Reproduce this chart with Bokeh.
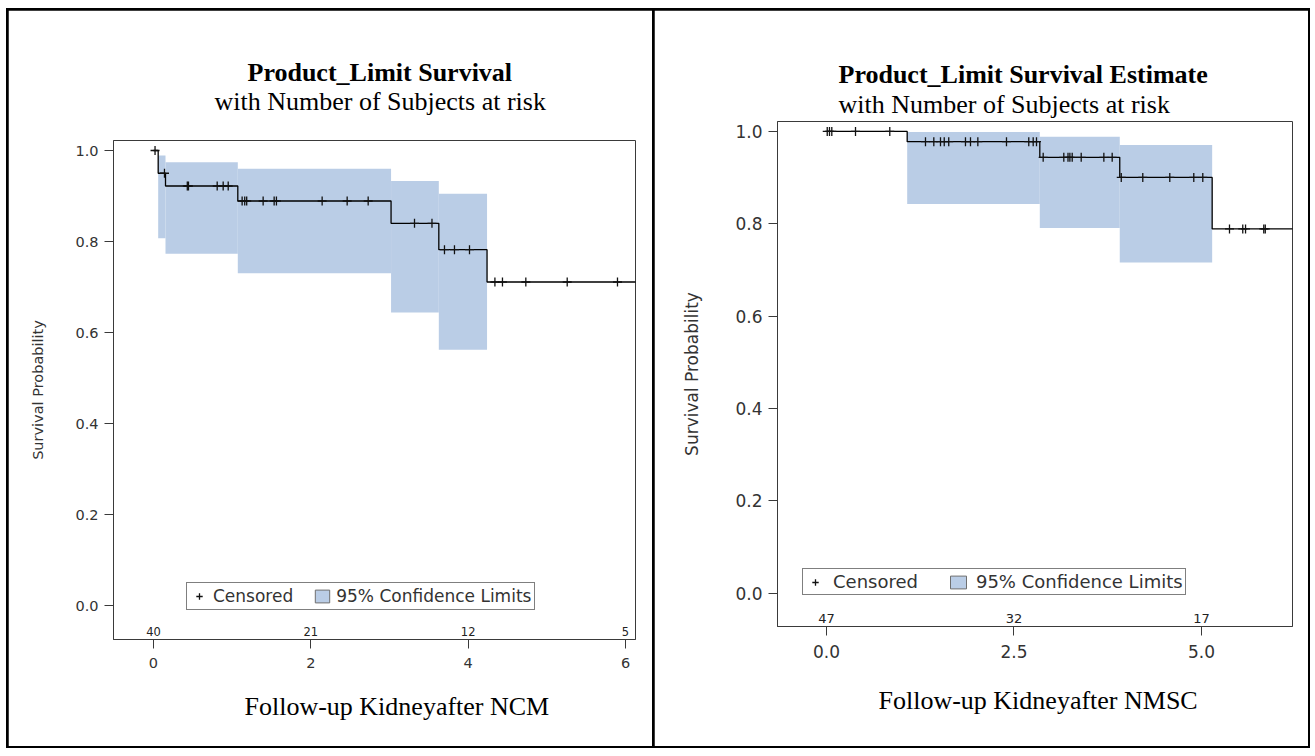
from bokeh.plotting import figure
from bokeh.layouts import row
from bokeh.models import (Range1d, FixedTicker, NumeralTickFormatter, Title,
                          Legend, LegendItem)
from bokeh.core.properties import value
from bokeh.embed import file_html
from bokeh.resources import INLINE

# ---------------- data: left panel (NCM) ----------------
ncm_step_time = [0.0, 0.06, 0.153, 1.072, 3.02, 3.627, 4.24, 6.15]
ncm_step_surv = [1.0, 0.950, 0.922, 0.889, 0.840, 0.782, 0.711, 0.711]
ncm_ci_start = [0.06, 0.153, 1.072, 3.02, 3.627]
ncm_ci_end = [0.153, 1.072, 3.02, 3.627, 4.24]
ncm_ci_lower = [0.807, 0.773, 0.730, 0.644, 0.562]
ncm_ci_upper = [0.989, 0.974, 0.960, 0.933, 0.905]
ncm_cens_time = [0.02, 0.14, 0.43, 0.445, 0.81, 0.886, 0.95,
                 1.127, 1.16, 1.185, 1.394, 1.534, 1.563, 2.144, 2.462, 2.729,
                 3.318, 3.54, 3.699, 3.826, 4.017,
                 4.34, 4.436, 4.733, 5.259, 5.898]
ncm_cens_surv = [1.0, 0.950, 0.922, 0.922, 0.922, 0.922, 0.922,
                 0.889, 0.889, 0.889, 0.889, 0.889, 0.889, 0.889, 0.889, 0.889,
                 0.840, 0.840, 0.782, 0.782, 0.782,
                 0.711, 0.711, 0.711, 0.711, 0.711]
ncm_risk_time = [0, 2, 4, 6]
ncm_risk_n = ["40", "21", "12", "5"]
ncm_xticks = [0, 2, 4, 6]

# ---------------- data: right panel (NMSC) ----------------
nmsc_step_time = [0.0, 1.076, 2.844, 3.91, 5.142, 6.25]
nmsc_step_surv = [1.0, 0.978, 0.944, 0.9005, 0.789, 0.789]
nmsc_ci_start = [1.076, 2.844, 3.91]
nmsc_ci_end = [2.844, 3.91, 5.142]
nmsc_ci_lower = [0.843, 0.791, 0.7165]
nmsc_ci_upper = [0.999, 0.9886, 0.9705]
nmsc_cens_time = [0.01, 0.04, 0.071, 0.387, 0.844,
                  1.32, 1.431, 1.52, 1.57, 1.63, 1.853, 1.92, 2.018, 2.4, 2.697, 2.756, 2.8,
                  2.889, 3.164, 3.22, 3.245, 3.276, 3.396, 3.698, 3.809,
                  3.93, 4.217, 4.577, 4.897, 5.017,
                  5.373, 5.55, 5.587, 5.83, 5.85]
nmsc_cens_surv = [1.0] * 5 + [0.978] * 12 + [0.944] * 8 + [0.9005] * 5 + [0.789] * 5
nmsc_risk_time = [0, 2.5, 5.0]
nmsc_risk_n = ["47", "32", "17"]
nmsc_xticks = [0, 2.5, 5.0]

y_ticks = [0.0, 0.2, 0.4, 0.6, 0.8, 1.0]

CI_FILL = "#bacde6"
AX = "#3a3a3a"
TXT = "#333333"
NAN = float("nan")


def panel(width, xr, yr, borders, xticks, xfmt, tick_fs, tick_standoff, risk_fs, risk_y,
          step_t, step_s, ci_s, ci_e, ci_lo, ci_hi, c_t, c_s, r_t, r_n,
          legend_loc, legend_fs, legend_kw, ylab_standoff, ylab_fs):
    bl, br, bt, bb = borders
    p = figure(width=width, height=736, x_range=Range1d(*xr), y_range=Range1d(*yr),
               output_backend="svg", toolbar_location=None,
               min_border_left=bl, min_border_right=br,
               min_border_top=bt, min_border_bottom=bb)
    p.frame_align = False
    p.styles = {"outline": "3px solid black", "outline-offset": "-1.5px"}
    p.background_fill_color = "white"
    p.border_fill_color = "white"
    p.outline_line_color = AX
    p.outline_line_width = 1
    p.grid.visible = False

    p.quad(left=ci_s, right=ci_e, bottom=ci_lo, top=ci_hi,
           fill_color=CI_FILL, line_color=None)
    p.step(x=step_t, y=step_s, mode="after", line_color="black", line_width=1.3)
    cens = p.scatter(x=c_t, y=c_s, marker="cross", size=9,
                     line_color="#111111", line_width=1.3)
    swatch = p.quad(left=[NAN], right=[NAN], bottom=[NAN], top=[NAN],
                    fill_color=CI_FILL, line_color="#6f6f6f", line_width=1)
    p.text(x=r_t, y=[risk_y] * len(r_t), text=r_n, text_align="center",
           text_baseline="middle", text_font=value("DejaVu Sans"),
           text_font_size=risk_fs, text_color="#222222")

    xa = p.xaxis[0]
    xa.ticker = FixedTicker(ticks=xticks)
    xa.formatter = NumeralTickFormatter(format=xfmt)
    xa.minor_tick_line_color = None
    xa.major_tick_out = 9
    xa.major_tick_in = 0
    xa.axis_line_color = AX
    xa.major_tick_line_color = AX
    xa.major_label_text_font = "DejaVu Sans"
    xa.major_label_text_font_size = tick_fs
    xa.major_label_text_color = TXT
    xa.major_label_standoff = tick_standoff

    ya = p.yaxis[0]
    ya.ticker = FixedTicker(ticks=y_ticks)
    ya.formatter = NumeralTickFormatter(format="0.0")
    ya.minor_tick_line_color = None
    ya.major_tick_out = 9
    ya.major_tick_in = 0
    ya.axis_line_color = AX
    ya.major_tick_line_color = AX
    ya.major_label_text_font = "DejaVu Sans"
    ya.major_label_text_font_size = tick_fs
    ya.major_label_text_color = TXT
    ya.major_label_standoff = 6
    ya.axis_label = "Survival Probability"
    ya.axis_label_text_font = "DejaVu Sans"
    ya.axis_label_text_font_size = ylab_fs
    ya.axis_label_text_font_style = "normal"
    ya.axis_label_text_color = TXT
    ya.axis_label_standoff = ylab_standoff

    leg = Legend(items=[LegendItem(label="Censored", renderers=[cens]),
                        LegendItem(label="95% Confidence Limits", renderers=[swatch])],
                 location=legend_loc, orientation="horizontal",
                 border_line_color="black", border_line_width=1,
                 background_fill_color="white", background_fill_alpha=1,
                 label_text_font="DejaVu Sans", label_text_font_size=legend_fs,
                 label_text_color=TXT, margin=0, **legend_kw)
    p.add_layout(leg)
    return p


def add_title(p, text, side, offset, standoff, bold=False, valign="bottom"):
    p.add_layout(Title(text=text, align="left", offset=offset, standoff=standoff,
                       vertical_align=valign,
                       text_font="Liberation Serif", text_font_size="26px",
                       text_font_style="bold" if bold else "normal",
                       text_color="black"), side)


# left cell: page x 8..654, y 10..746 ; right cell: page x 654..1308
left = panel(646, (-0.508, 6.127), (-0.0747, 1.022), (105, 19, 130, 107),
             ncm_xticks, "0", "14.5px", 9, "11.5px", -0.058,
             ncm_step_time, ncm_step_surv, ncm_ci_start, ncm_ci_end,
             ncm_ci_lower, ncm_ci_upper, ncm_cens_time, ncm_cens_surv,
             ncm_risk_time, ncm_risk_n, (73, 29), "17px",
             dict(glyph_width=18, glyph_height=16, padding=3, spacing=20,
                  label_standoff=5), 26, "14.5px")

right = panel(654, (-0.653, 6.213), (-0.072, 1.0216), (123, 16, 111, 120),
              nmsc_xticks, "0.0", "17px", 9, "13px", -0.055,
              nmsc_step_time, nmsc_step_surv, nmsc_ci_start, nmsc_ci_end,
              nmsc_ci_lower, nmsc_ci_upper, nmsc_cens_time, nmsc_cens_surv,
              nmsc_risk_time, nmsc_risk_n, (25, 31), "18px",
              dict(glyph_width=20, glyph_height=16, padding=2, spacing=30,
                   label_standoff=8), 30, "17px")

# titles (nearest to the frame first) and x captions
add_title(left, "with Number of Subjects at risk", "above", 101, 49)
add_title(left, "Product_Limit Survival", "above", 134, -52, bold=True)
add_title(right, "with Number of Subjects at risk", "above", 61, 5)
add_title(right, "Product_Limit Survival Estimate", "above", 61, -6, bold=True)
add_title(left, "Follow-up Kidneyafter NCM", "below", 131, 42, valign="top")
add_title(right, "Follow-up Kidneyafter NMSC", "below", 101, 51, valign="top")

page = row(left, right, spacing=0, margin=(10, 0, 0, 8))
open("out.html", "w").write(file_html(page, INLINE))
